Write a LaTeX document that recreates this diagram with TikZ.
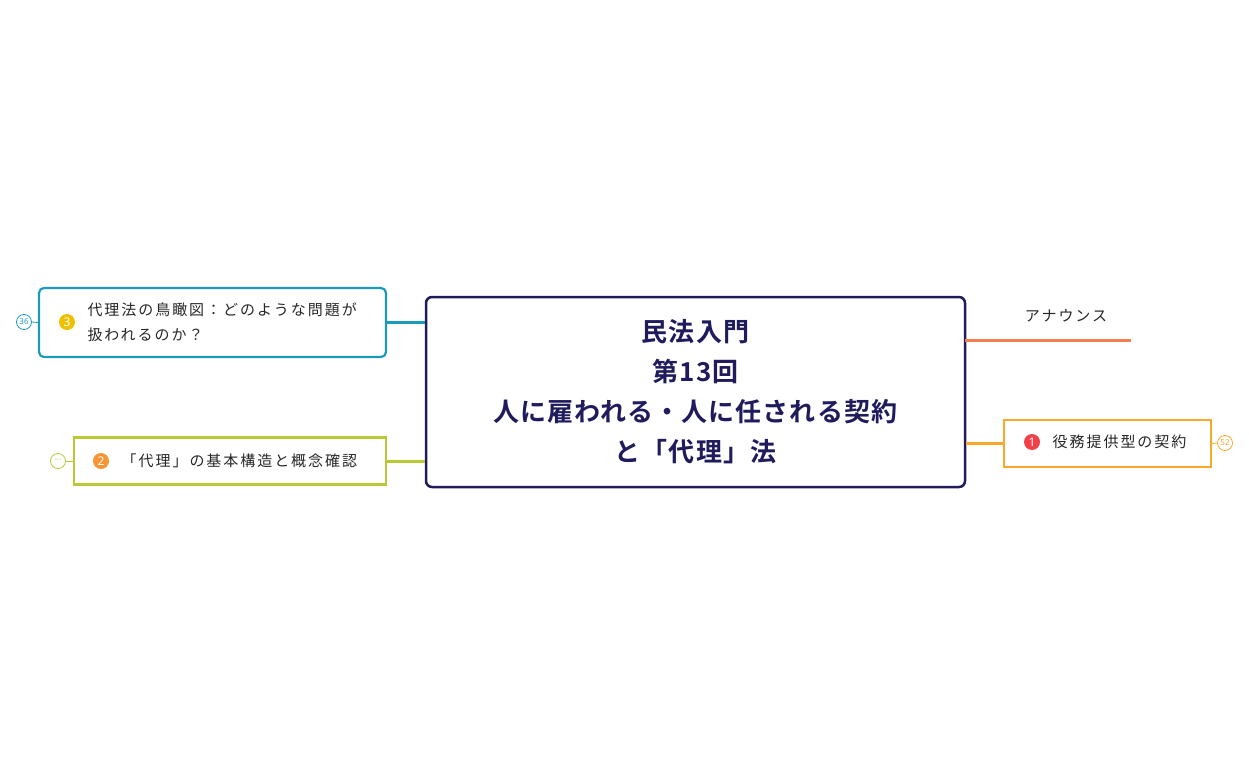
\documentclass[tikz,border=0pt]{standalone}
\usepackage{fontspec}
\newfontfamily\jp[LetterSpace=13]{Noto Sans CJK JP}
\newfontfamily\jpb[LetterSpace=4]{Noto Sans CJK JP Bold}
\newfontfamily\numf{Noto Sans}
\definecolor{navy}{HTML}{1F1B5C}
\definecolor{tealc}{HTML}{1A9BBC}
\definecolor{limec}{HTML}{B8C934}
\definecolor{orangec}{HTML}{F9A82B}
\definecolor{coralc}{HTML}{F47C50}
\definecolor{badgered}{HTML}{F0414B}
\definecolor{badgeyel}{HTML}{EFC000}
\definecolor{badgeorg}{HTML}{F79433}
\usetikzlibrary{positioning}

\tikzset{
  topic/.style = {draw, line width = 2.2pt, minimum height = 47pt, inner sep = 0pt, text = black!85},
  label/.style = {font = \jp\fontsize{15}{15}\selectfont, text = black!85},
  badge/.style = {circle, inner sep = 0pt, minimum size = 16pt, text = white, font = \numf\bfseries\fontsize{12}{12}\selectfont},
  count/.style = {circle, draw, line width = 0.8pt, inner sep = 0pt, minimum size = 15pt, font = \numf\fontsize{8}{8}\selectfont},
  branch/.style = {line width = 3pt}
}

\begin{document}
\begin{tikzpicture}[x = 1pt, y = -1pt]
\useasboundingbox (0,0) rectangle (1249,773);
% central topic
\node[draw = navy, line width = 2.5pt, rounded corners = 6pt, minimum width = 539pt, minimum height = 190pt, align = center, text = navy, font = \jpb\fontsize{26}{40}\selectfont] (main) at (695.5,392) {民法入門\\第13回\\人に雇われる・人に任される契約\\と「代理」法};
% right side
\coordinate (annstart) at (965,340);
\coordinate (annend) at (1131,340);
\node[label] (ann) at (1066,316) {アナウンス};
\node[topic, draw = orangec, minimum width = 207pt, sharp corners] (t1) at (1107.5,443.5) {};
\node[badge, fill = badgered] (b1) at (1032,442) {1};
\node[label, right = 9pt of b1] (l1) {役務提供型の契約};
\node[count, draw = orangec, text = orangec] (c1) at (1225,443) {52};
% left side
\node[topic, draw = tealc, rounded corners = 5pt, minimum width = 347pt, minimum height = 69pt] (t3) at (212.5,322.5) {};
\node[badge, fill = badgeyel] (b3) at (67,322) {3};
\node[anchor = west, align = left, font = \jp\fontsize{15}{25}\selectfont, text = black!85] (l3) at (84,322) {代理法の鳥瞰図：どのような問題が\\扱われるのか？};
\node[count, draw = tealc, text = tealc] (c3) at (24,322) {36};
\node[topic, draw = limec, minimum width = 312pt, sharp corners] (t2) at (230,461) {};
\node[badge, fill = badgeorg] (b2) at (101,461) {2};
\node[label, right = 9pt of b2] (l2) {「代理」の基本構造と概念確認};
\node[count, draw = limec, text = limec] (c2) at (58,461) {\bfseries ···};
% connectors
\draw[branch, coralc] (annstart) -- (annend);
\draw[branch, orangec] (main.east |- t1) -- (t1.west);
\draw[branch, tealc] (t3.east) -- (main.west |- t3);
\draw[branch, limec] (t2.east) -- (main.west |- t2);
\draw[line width = 0.8pt, orangec] (t1.east) -- (c1.west);
\draw[line width = 0.8pt, tealc] (t3.west) -- (c3.east);
\draw[line width = 0.8pt, limec] (t2.west) -- (c2.east);
\end{tikzpicture}
\end{document}
